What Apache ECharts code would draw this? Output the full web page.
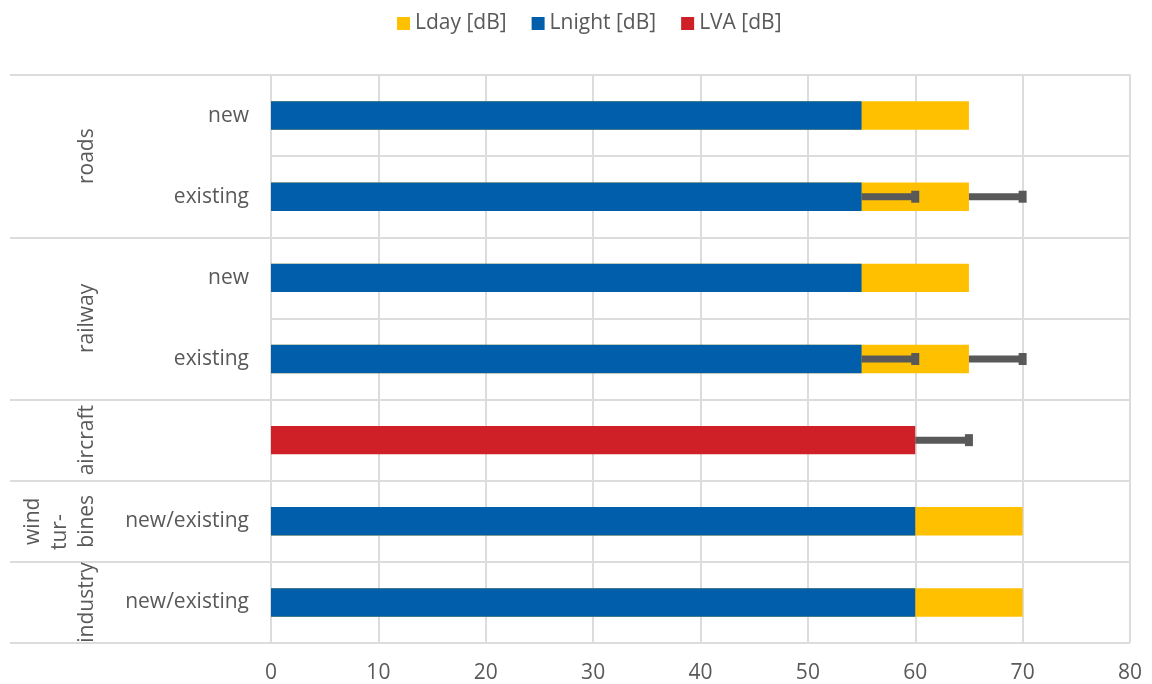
<!DOCTYPE html>
<html>
<head>
<meta charset="utf-8">
<script src="https://cdn.jsdelivr.net/npm/echarts@6/dist/echarts.min.js"></script>
<style>
  html, body { margin: 0; padding: 0; background: #fff; }
  #figure { width: 1152px; height: 684px; }
</style>
</head>
<body>
<div id="figure"></div>
<script>
// rows, top to bottom
var categories = ['new', 'existing', 'new', 'existing', '', 'new/existing', 'new/existing'];
var lday = [65, 65, 65, 65, '-', 70, 70];
var lnight = [55, 55, 55, 55, '-', 60, 60];
var lva = ['-', '-', '-', '-', 60, '-', '-'];
// [row, from, to]
var errorBars = [[1, 55, 60], [1, 65, 70], [3, 55, 60], [3, 65, 70], [4, 60, 65]];

// outer category level
var groups = ['roads', 'railway', 'aircraft', 'wind\ntur-\u00a0\u00a0\u00a0\u00a0\nbines', 'industry'];
var groupCenters = [1, 3, 4.5, 5.5, 6.5];
var groupBounds = [0, 2, 4, 5, 6, 7];

var font = '"Open Sans", sans-serif';
var textColor = '#595959';
var gridColor = '#DCDCDC';

var figure = echarts.init(document.getElementById('figure'));
var option = {
    animation: false,
    textStyle: { fontFamily: font },
    legend: {
        top: 8,
        left: 392,
        itemWidth: 13,
        itemHeight: 13,
        itemGap: 25,
        icon: 'rect',
        textStyle: { color: textColor, fontSize: 21, fontFamily: font },
        data: ['Lday [dB]', 'Lnight [dB]', 'LVA [dB]']
    },
    grid: {
        left: 271,
        right: 22,
        top: 75,
        bottom: 39
    },
    xAxis: {
        type: 'value',
        min: 0,
        max: 80,
        interval: 10,
        axisLine: { show: true, lineStyle: { color: gridColor, width: 2 } },
        axisTick: { show: false },
        axisLabel: { color: textColor, fontSize: 21, fontFamily: font, margin: 20 },
        splitLine: { lineStyle: { color: gridColor, width: 2 } }
    },
    yAxis: [{
        type: 'category',
        data: categories,
        inverse: true,
        position: 'left',
        axisLine: { show: true, lineStyle: { color: gridColor, width: 2 } },
        axisTick: { show: false },
        axisLabel: { color: textColor, fontSize: 21, fontFamily: font, margin: 22 },
        splitLine: { show: true, lineStyle: { color: gridColor, width: 2 } }
    }, {
        type: 'value',
        min: 0,
        max: 7,
        inverse: true,
        position: 'left',
        axisLine: { show: false },
        splitLine: { show: false },
        axisTick: {
            show: true,
            customValues: groupBounds,
            length: 261,
            lineStyle: { color: gridColor, width: 2 }
        },
        axisLabel: {
            customValues: groupCenters,
            rotate: 90,
            margin: 170,
            color: textColor,
            fontSize: 21,
            lineHeight: 27,
            fontFamily: font,
            formatter: function (v) {
                var i = groupCenters.indexOf(v);
                return i >= 0 ? groups[i] : '';
            }
        }
    }],
    series: [{
        name: 'Lday [dB]',
        type: 'bar',
        barWidth: '35%',
        barGap: '-100%',
        itemStyle: { color: '#FFC000' },
        data: lday
    }, {
        name: 'Lnight [dB]',
        type: 'bar',
        barWidth: '35%',
        barGap: '-100%',
        itemStyle: { color: '#005EAA' },
        data: lnight
    }, {
        name: 'LVA [dB]',
        type: 'bar',
        barWidth: '35%',
        barGap: '-100%',
        itemStyle: { color: '#D02027' },
        data: lva
    }, {
        type: 'custom',
        z: 5,
        encode: { x: [1, 2], y: 0 },
        renderItem: function (params, api) {
            var a = api.coord([api.value(1), api.value(0)]);
            var b = api.coord([api.value(2), api.value(0)]);
            var color = '#595959';
            return {
                type: 'group',
                children: [{
                    type: 'rect',
                    shape: { x: a[0], y: a[1] - 3.5, width: b[0] - a[0], height: 7 },
                    style: { fill: color }
                }, {
                    type: 'rect',
                    shape: { x: b[0] - 4, y: b[1] - 6, width: 8, height: 12 },
                    style: { fill: color }
                }]
            };
        },
        data: errorBars
    }]
};

figure.setOption(option);
</script>
</body>
</html>
